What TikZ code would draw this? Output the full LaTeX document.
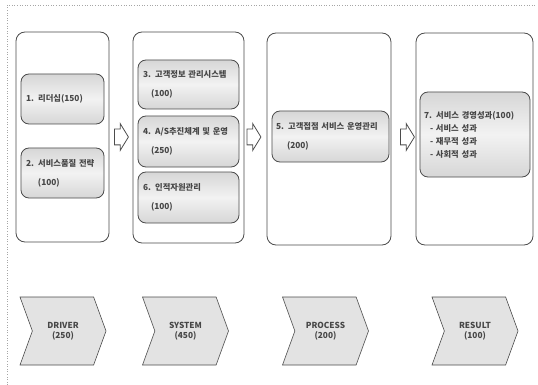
\documentclass[tikz,border=0pt]{standalone}
\usepackage{fontspec}
\setmainfont{Noto Sans CJK KR}
\usepackage{xcolor}
\usepackage{tikz}
\usetikzlibrary{shapes.symbols,shapes.arrows}

\begin{document}
\begin{tikzpicture}[x=1pt, y=-1pt,
  every node/.style={font=\fontsize{8.3}{10}\selectfont\bfseries, text=black!72},
  colbox/.style={draw=gray!60!black, line width=0.8pt, rounded corners=9pt, fill=white},
  itembox/.style={draw=gray!60!black, line width=0.8pt, rounded corners=8pt,
    top color=gray!32, bottom color=gray!32, middle color=gray!10, align=left},
  stagebox/.style={draw=gray!60!black, line width=0.6pt, fill=gray!22, shape=signal,
    signal to=east, signal from=west, signal pointer angle=140, inner sep=0pt,
    minimum width=86pt, minimum height=68pt, align=center},
  flowarrow/.style={draw=gray!60!black, line width=0.8pt, fill=white, shape=single arrow,
    single arrow tip angle=117, single arrow head extend=5.5pt, inner xsep=0pt,
    inner ysep=7.5pt, minimum height=14pt}]
\useasboundingbox (0,0) rectangle (538,385);
% outer frame
\draw[gray!70, dotted, line width=0.6pt] (7,385) -- (7,5) -- (535,5);

% columns
\node[colbox, minimum width=93pt, minimum height=210pt] (driver) at (62.5,137) {};
\node[colbox, minimum width=111pt, minimum height=211pt] (system) at (188.5,137.5) {};
\node[colbox, minimum width=124pt, minimum height=212pt] (process) at (329,139) {};
\node[colbox, minimum width=117pt, minimum height=212pt] (result) at (474.5,139) {};

% items
\node[itembox, minimum width=83pt, minimum height=50pt, text width=73pt] (lead) at (62.5,99)
  {1. 리더십(150)};
\node[itembox, minimum width=83pt, minimum height=50pt, text width=73pt] (quality) at (62.5,173)
  {2. 서비스품질 전략\\[9pt]\hspace*{12pt}(100)};
\node[itembox, minimum width=101pt, minimum height=49pt, text width=91pt] (crm) at (188.5,84.5)
  {3. 고객정보 관리시스템\\[9pt]\hspace*{8pt}(100)};
\node[itembox, minimum width=101pt, minimum height=51pt, text width=91pt] (as) at (188.5,141.5)
  {4. A/S추진체계 및 운영\\[9pt]\hspace*{8pt}(250)};
\node[itembox, minimum width=101pt, minimum height=51pt, text width=91pt] (hr) at (188.5,197.5)
  {6. 인적자원관리\\[9pt]\hspace*{8pt}(100)};
\node[itembox, minimum width=117pt, minimum height=51pt, text width=109pt] (contact) at (330.5,136.5)
  {5. 고객접점 서비스 운영관리\\[9pt]\hspace*{11pt}(200)};
\node[itembox, minimum width=110pt, minimum height=85pt, text width=102pt] (perf) at (475,134.5)
  {7. 서비스 경영성과(100)\\[3pt]\hspace*{6pt}- 서비스 성과\\[3pt]\hspace*{6pt}- 재무적 성과\\[3pt]\hspace*{6pt}- 사회적 성과};

% arrows between columns
\node[flowarrow] (a1) at (119,137) {};
\node[flowarrow] (a2) at (251.5,137) {};
\node[flowarrow] (a3) at (405,137) {};

% stages
\node[stagebox] (sdriver) at (63,331) {DRIVER\\(250)};
\node[stagebox] (ssystem) at (185.5,331) {SYSTEM\\(450)};
\node[stagebox] (sprocess) at (325.5,331) {PROCESS\\(200)};
\node[stagebox] (sresult) at (475,331) {RESULT\\(100)};
\end{tikzpicture}
\end{document}
